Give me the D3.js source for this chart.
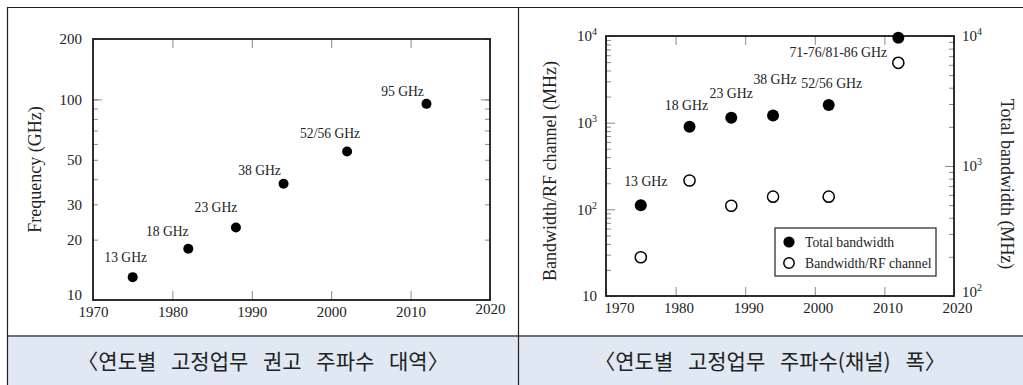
<!DOCTYPE html>
<html><head><meta charset="utf-8">
<script src="https://cdn.jsdelivr.net/npm/d3@7"></script>
<style>body{margin:0;background:#fff} svg{display:block}</style>
</head><body><svg id="c" width="1023" height="385"></svg>
<script>
// ---------- data ----------
const freqYears = [1975, 1982, 1988, 1994, 2002, 2012];
const freqValues = [13, 18, 23, 38, 55, 95];
const freqLabels = ["13 GHz", "18 GHz", "23 GHz", "38 GHz", "52/56 GHz", "95 GHz"];
const freqTickLabels = [10, 20, 30, 50, 100, 200];
const freqMinorTicks = [40, 60, 70, 80, 90];
const yearTicks = [1970, 1980, 1990, 2000, 2010, 2020];

const bwYears = [1975, 1982, 1988, 1994, 2002, 2012];
const totalBandwidth = [500, 2000, 2350, 2450, 2950, 9700];
const channelBandwidth = [28, 215, 110, 140, 140, 4900];
const bwLabels = ["13 GHz", "18 GHz", "23 GHz", "38 GHz", "52/56 GHz", "71-76/81-86 GHz"];
const channelTicks = [10, 100, 1000, 10000];
const totalTicks = [100, 1000, 10000];
const legendLabels = ["Total bandwidth", "Bandwidth/RF channel"];

const axisTitles = ["Frequency (GHz)", "Bandwidth/RF channel (MHz)", "Total bandwidth (MHz)"];
const captions = ["〈연도별 고정업무 권고 주파수 대역〉", "〈연도별 고정업무 주파수(채널) 폭〉"];

// ---------- layout (not data) ----------
const freqLabelOffsets = [[-7,-15],[-21,-13],[-20,-15],[-24,-9],[-17,-13],[-24,-8]];
const bwLabelOffsets = [[5,-19],[-3,-17],[0,-20],[2,-31],[3,-17],[-60,19]];

const svg = d3.select("#c");
const SERIF = "'Liberation Serif','Times New Roman',serif";
const KFONT = "'Noto Sans CJK KR','Noto Sans',sans-serif";

// caption band & borders
svg.append("rect").attr("x", 7).attr("y", 336).attr("width", 1016).attr("height", 49).attr("fill", "#dfe8f3");
svg.append("line").attr("x1", 7).attr("x2", 1023).attr("y1", 336).attr("y2", 336).attr("stroke", "#6f6f6f").attr("stroke-width", 2);
svg.append("line").attr("x1", 7).attr("x2", 1023).attr("y1", 7.5).attr("y2", 7.5).attr("stroke", "#222").attr("stroke-width", 1.2);
svg.append("line").attr("x1", 7.5).attr("x2", 7.5).attr("y1", 7).attr("y2", 385).attr("stroke", "#222").attr("stroke-width", 1.2);
svg.append("line").attr("x1", 518.5).attr("x2", 518.5).attr("y1", 7).attr("y2", 385).attr("stroke", "#222").attr("stroke-width", 1.2);

svg.selectAll("text.cap").data(captions).join("text").attr("class", "cap")
  .attr("x", (d, i) => i === 0 ? 263 : 770).attr("y", 369)
  .attr("text-anchor", "middle").attr("font-family", KFONT).attr("font-size", 21)
  .attr("word-spacing", 10).attr("fill", "#222").text(d => d);

function styleAxis(g) {
  g.select(".domain").remove();
  g.selectAll(".tick line").attr("stroke", "#8a8a8a").attr("stroke-width", 1);
  g.selectAll("text").attr("font-family", SERIF).attr("fill", "#222");
}
function supFormat(sel) {
  sel.each(function(d) {
    const t = d3.select(this);
    const e = Math.round(Math.log10(d));
    t.text("10");
    if (e > 1) t.append("tspan").attr("font-size", 10).attr("dy", -6).text(e);
  });
}

// ---------- Chart 1 ----------
{
  const L = 93, R = 490, T = 39, B = 300;
  const x = d3.scaleLinear().domain([1970, 2020]).range([L, R]);
  const y = d3.scaleLog().domain([10, 200]).range([B, T]);
  const g = svg.append("g");

  g.append("g").attr("transform", `translate(0,${B})`)
    .call(d3.axisBottom(x).tickValues(yearTicks).tickFormat(d3.format("d")).tickSizeInner(-9).tickSizeOuter(0).tickPadding(6))
    .call(styleAxis).selectAll("text").attr("font-size", 15).attr("dy", d => d === 2020 ? "0.55em" : "0.71em");
  g.append("g").attr("transform", `translate(0,${T})`)
    .call(d3.axisTop(x).tickValues(yearTicks).tickFormat("").tickSizeInner(-9).tickSizeOuter(0)).call(styleAxis);
  g.append("g").attr("transform", `translate(${L},0)`)
    .call(d3.axisLeft(y).tickValues(freqTickLabels).tickFormat(d3.format("d")).tickSizeInner(-5).tickSizeOuter(0).tickPadding(11))
    .call(styleAxis).selectAll("text").attr("font-size", 15).attr("dy", d => d === 10 ? "-0.05em" : "0.32em");
  g.append("g").attr("transform", `translate(${L},0)`)
    .call(d3.axisLeft(y).tickValues(freqMinorTicks).tickFormat("").tickSizeInner(-5).tickSizeOuter(0)).call(styleAxis);
  g.append("g").attr("transform", `translate(${L},0)`)
    .call(d3.axisLeft(y).tickValues([100]).tickFormat("").tickSizeInner(-9).tickSizeOuter(0)).call(styleAxis);
  g.append("g").attr("transform", `translate(${R},0)`)
    .call(d3.axisRight(y).tickValues(freqTickLabels.concat(freqMinorTicks)).tickFormat("").tickSizeInner(-5).tickSizeOuter(0)).call(styleAxis);
  g.append("g").attr("transform", `translate(${R},0)`)
    .call(d3.axisRight(y).tickValues([100]).tickFormat("").tickSizeInner(-9).tickSizeOuter(0)).call(styleAxis);

  g.append("rect").attr("x", L).attr("y", T).attr("width", R - L).attr("height", B - T)
    .attr("fill", "none").attr("stroke", "#1a1a1a").attr("stroke-width", 1.8);

  g.append("text").attr("transform", `translate(35,${(T + B) / 2}) rotate(-90)`)
    .attr("text-anchor", "middle").attr("dy", "0.35em").attr("font-family", SERIF).attr("font-size", 18)
    .attr("fill", "#222").text(axisTitles[0]);

  g.selectAll("circle.p").data(freqValues).join("circle").attr("class", "p")
    .attr("cx", (d, i) => x(freqYears[i])).attr("cy", d => y(d)).attr("r", 5).attr("fill", "#000");
  g.selectAll("text.lbl").data(freqLabels).join("text").attr("class", "lbl")
    .attr("x", (d, i) => x(freqYears[i]) + freqLabelOffsets[i][0])
    .attr("y", (d, i) => y(freqValues[i]) + freqLabelOffsets[i][1])
    .attr("text-anchor", "middle").attr("font-family", SERIF).attr("font-size", 13.6).attr("fill", "#222").text(d => d);
}

// ---------- Chart 2 ----------
{
  const L = 606, R = 954, T = 36, B = 296;
  const x = d3.scaleLinear().domain([1970, 2020]).range([L, R]);
  const yL = d3.scaleLog().domain([10, 10000]).range([B, T]);
  const yR = d3.scaleLog().domain([100, 10000]).range([B, T]);
  const minorL = [], minorR = [];
  [10, 100, 1000].forEach(b => { for (let k = 2; k <= 9; k++) minorL.push(b * k); });
  [100, 1000].forEach(b => { for (let k = 2; k <= 9; k++) minorR.push(b * k); });
  const g = svg.append("g");

  const xa = g.append("g").attr("transform", `translate(0,${B})`)
    .call(d3.axisBottom(x).tickValues(yearTicks).tickFormat(d3.format("d")).tickSizeInner(-9).tickSizeOuter(0).tickPadding(6))
    .call(styleAxis);
  xa.selectAll("text").attr("font-size", 15).attr("dx", d => d === 1970 ? 13 : 3);
  g.append("g").attr("transform", `translate(0,${T})`)
    .call(d3.axisTop(x).tickValues(yearTicks).tickFormat("").tickSizeInner(-9).tickSizeOuter(0)).call(styleAxis);

  g.append("g").attr("transform", `translate(${L},0)`)
    .call(d3.axisLeft(yL).tickValues(channelTicks).tickSizeInner(-9).tickSizeOuter(0).tickPadding(9))
    .call(styleAxis).selectAll("text").attr("font-size", 15).call(supFormat);
  g.append("g").attr("transform", `translate(${L},0)`)
    .call(d3.axisLeft(yL).tickValues(minorL).tickFormat("").tickSizeInner(-5).tickSizeOuter(0)).call(styleAxis);

  g.append("g").attr("transform", `translate(${R},0)`)
    .call(d3.axisRight(yR).tickValues(totalTicks).tickSizeInner(-9).tickSizeOuter(0).tickPadding(8))
    .call(styleAxis).selectAll("text").attr("font-size", 15).call(supFormat)
    .attr("dy", d => d === 100 ? "0.05em" : "0.32em");
  g.append("g").attr("transform", `translate(${R},0)`)
    .call(d3.axisRight(yR).tickValues(minorR).tickFormat("").tickSizeInner(-5).tickSizeOuter(0)).call(styleAxis);

  g.append("rect").attr("x", L).attr("y", T).attr("width", R - L).attr("height", B - T)
    .attr("fill", "none").attr("stroke", "#1a1a1a").attr("stroke-width", 1.8);

  g.append("text").attr("transform", `translate(550,${(T + B) / 2 + 5}) rotate(-90)`)
    .attr("text-anchor", "middle").attr("dy", "0.35em").attr("font-family", SERIF).attr("font-size", 18)
    .attr("fill", "#222").text(axisTitles[1]);
  g.append("text").attr("transform", `translate(1007,${(T + B) / 2 + 18}) rotate(90)`)
    .attr("text-anchor", "middle").attr("dy", "0.35em").attr("font-family", SERIF).attr("font-size", 18)
    .attr("fill", "#222").text(axisTitles[2]);

  g.selectAll("circle.o").data(channelBandwidth).join("circle").attr("class", "o")
    .attr("cx", (d, i) => x(bwYears[i])).attr("cy", d => yL(d)).attr("r", 5.6)
    .attr("fill", "#fff").attr("stroke", "#000").attr("stroke-width", 1.5);
  g.selectAll("circle.f").data(totalBandwidth).join("circle").attr("class", "f")
    .attr("cx", (d, i) => x(bwYears[i])).attr("cy", d => yR(d)).attr("r", 6).attr("fill", "#000");
  g.selectAll("text.lbl").data(bwLabels).join("text").attr("class", "lbl")
    .attr("x", (d, i) => x(bwYears[i]) + bwLabelOffsets[i][0])
    .attr("y", (d, i) => yR(totalBandwidth[i]) + bwLabelOffsets[i][1])
    .attr("text-anchor", "middle").attr("font-family", SERIF).attr("font-size", 13.8).attr("fill", "#222").text(d => d);

  // legend
  const lg = g.append("g").attr("transform", "translate(775,228)");
  lg.append("rect").attr("width", 161).attr("height", 48).attr("fill", "#fff").attr("stroke", "#333").attr("stroke-width", 1.3);
  legendLabels.forEach((t, i) => {
    const cy = 14 + i * 21;
    lg.append("circle").attr("cx", 14).attr("cy", cy).attr("r", i === 0 ? 5.6 : 5.2)
      .attr("fill", i === 0 ? "#000" : "#fff").attr("stroke", "#000").attr("stroke-width", i === 0 ? 0 : 1.5);
    lg.append("text").attr("x", 30).attr("y", cy + 5).attr("font-family", SERIF).attr("font-size", 13.7)
      .attr("fill", "#222").text(t);
  });
}
</script></body></html>
